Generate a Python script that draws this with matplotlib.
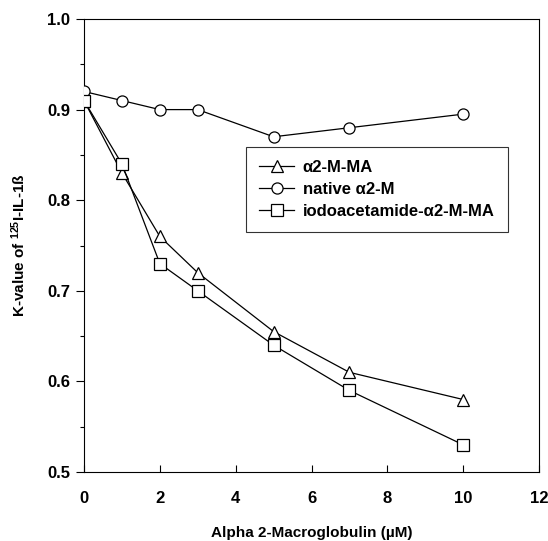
import matplotlib
matplotlib.use("Agg")
import matplotlib.pyplot as plt
from matplotlib.ticker import MultipleLocator

plt.rcParams['font.family'] = ['Liberation Sans', 'DejaVu Sans']
plt.rcParams['mathtext.default'] = 'regular'

# data
conc_native = [0, 1, 2, 3, 5, 7, 10]
k_native = [0.92, 0.91, 0.90, 0.90, 0.87, 0.88, 0.895]

conc_ma = [0, 1, 2, 3, 5, 7, 10]
k_ma = [0.91, 0.83, 0.76, 0.72, 0.655, 0.61, 0.58]

conc_iodo = [0, 1, 2, 3, 5, 7, 10]
k_iodo = [0.91, 0.84, 0.73, 0.70, 0.64, 0.59, 0.53]

labels = [u'\u03b12-M-MA', u'native \u03b12-M', u'iodoacetamide-\u03b12-M-MA']

fig = plt.figure(figsize=(5.48, 5.41), dpi=100)
ax = fig.add_axes([84 / 548, 1 - 472 / 541, (539 - 84) / 548, (472 - 19) / 541])

mk = dict(color='black', lw=0.9, mfc='white', mec='black', mew=0.9, ms=8)
ax.plot(conc_ma, k_ma, marker='^', label=labels[0], zorder=3, **mk)
ax.plot(conc_native, k_native, marker='o', label=labels[1], zorder=3, **mk)
ax.plot(conc_iodo, k_iodo, marker='s', label=labels[2], zorder=3, **mk)

ax.set_xlim(0, 12)
ax.set_ylim(0.5, 1.0)
ax.xaxis.set_major_locator(MultipleLocator(2))
ax.yaxis.set_major_locator(MultipleLocator(0.1))
ax.yaxis.set_minor_locator(MultipleLocator(0.05))
ax.yaxis.set_major_formatter(matplotlib.ticker.FormatStrFormatter('%.1f'))

ax.tick_params(axis='x', direction='in', length=5, width=0.8, pad=14)
ax.tick_params(axis='y', which='major', direction='out', length=6, width=0.8, pad=4)
ax.tick_params(axis='y', which='minor', direction='out', length=3, width=0.8)
for lbl in ax.get_xticklabels() + ax.get_yticklabels():
    lbl.set_fontweight('bold')
    lbl.set_fontsize(12)

for s in ax.spines.values():
    s.set_linewidth(0.8)

ax.set_xlabel(u'Alpha 2-Macroglobulin (\u00b5M)', fontsize=11, fontweight='bold', labelpad=14)
ax.set_ylabel(u'K-value of $^{125}$I-IL-1\u00df', fontsize=11, fontweight='bold', labelpad=14)

leg = ax.legend(loc='upper left', bbox_to_anchor=((246 - 84) / 455, (472 - 147) / 453),
                frameon=True, fancybox=False, edgecolor='black',
                handlelength=2.1, borderpad=0.8, borderaxespad=0, labelspacing=0.4,
                handletextpad=0.5, prop={'weight': 'bold', 'size': 12})
leg.get_frame().set_linewidth(0.8)

fig.savefig('out.png', dpi=100)
